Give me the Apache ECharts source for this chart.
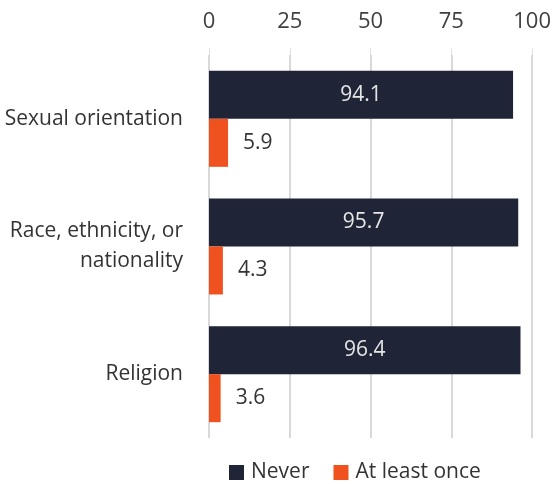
<!DOCTYPE html>
<html><head><meta charset="utf-8">
<script src="https://cdn.jsdelivr.net/npm/echarts@6/dist/echarts.min.js"></script>
<style>html,body{margin:0;padding:0;background:#fff}#c{width:554px;height:484px}</style>
</head><body><div id="c"></div>
<script>
const categories = ['Sexual orientation', 'Race, ethnicity, or\nnationality', 'Religion'];
const never = [94.1, 95.7, 96.4];
const atLeastOnce = [5.9, 4.3, 3.6];
const xTicks = [0, 25, 50, 75, 100];

const font = '"Open Sans", sans-serif';
const chart = echarts.init(document.getElementById('c'));
chart.setOption({
  animation: false,
  textStyle: {fontFamily: font},
  grid: {left: 209, right: 19, top: 55, bottom: 46, containLabel: false},
  legend: {
    top: 457, left: 224, itemWidth: 15, itemHeight: 15, itemGap: 24,
    icon: 'rect',
    textStyle: {fontFamily: font, fontSize: 21, color: '#333333', padding: [0,0,0,2]},
    data: ['Never', 'At least once']
  },
  xAxis: {
    type: 'value', position: 'top', min: xTicks[0], max: xTicks[xTicks.length-1], interval: 25,
    axisLine: {show: false},
    axisTick: {show: true, length: 7, lineStyle: {color: '#e0e0e0', width: 1}},
    axisLabel: {fontFamily: font, fontSize: 22, color: '#404040', margin: 22},
    splitLine: {show: true, lineStyle: {color: '#d9d9d9', width: 2}}
  },
  yAxis: {
    type: 'category', data: categories, inverse: true,
    axisLine: {show: false}, axisTick: {show: false},
    axisLabel: {fontFamily: font, fontSize: 21, color: '#333333', margin: 26, align: 'right', lineHeight: 30}
  },
  series: [
    {name: 'Never', type: 'bar', data: never, barWidth: 48, barGap: '0%',
     itemStyle: {color: '#1f2437'},
     label: {show: true, position: 'inside', color: '#e6e6e6', fontSize: 21, fontFamily: font}},
    {name: 'At least once', type: 'bar', data: atLeastOnce, barWidth: 48,
     itemStyle: {color: '#f0521f'},
     label: {show: true, position: 'right', distance: 15, color: '#333333', fontSize: 21, fontFamily: font}}
  ]
});
</script></body></html>
